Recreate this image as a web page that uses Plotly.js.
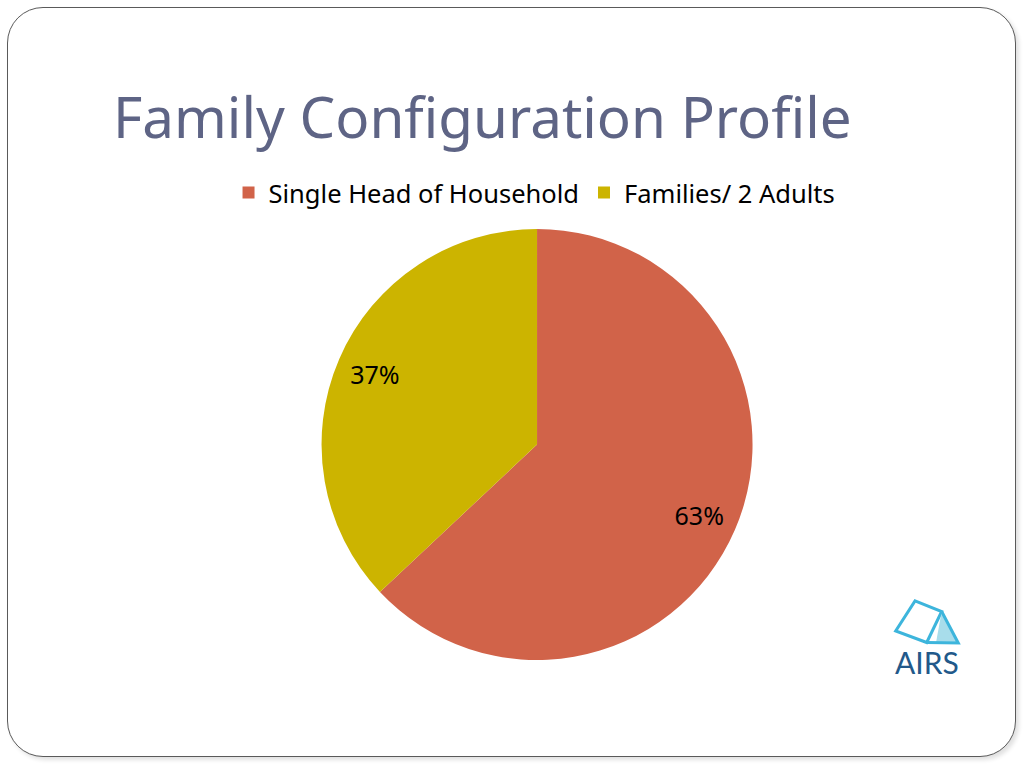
<!DOCTYPE html>
<html>
<head>
<meta charset="utf-8">
<script src="https://cdn.plot.ly/plotly-3.0.1.min.js"></script>
<style>
  html, body { margin: 0; padding: 0; background: #ffffff; }
  #frame {
    position: absolute; left: 7px; top: 7px; width: 1007px; height: 748px;
    border: 1.5px solid #5a5a5a; border-radius: 36px;
    box-shadow: 3px 3px 4px rgba(0,0,0,0.12);
    background: #ffffff;
  }
  #chart { position: absolute; left: 0; top: 0; width: 1024px; height: 768px; }
</style>
</head>
<body>
<div id="frame"></div>
<div id="chart"></div>
<script>
const categories = ["Single Head of Household", "Families/ 2 Adults"];
const shares = [63, 37];
const sliceColors = ["#D16349", "#CCB400"];
const chartTitle = "Family Configuration Profile";

const pieDomain = { x: [0.3140, 0.7349], y: [0.1406, 0.7018] };
const fontFamily = "Noto Sans, Open Sans, sans-serif";

// Main pie (slices + legend)
const slices = {
  type: "pie",
  labels: categories,
  values: shares,
  sort: false,
  direction: "clockwise",
  rotation: 0,
  marker: { colors: sliceColors, line: { width: 0 } },
  textinfo: "none",
  domain: pieDomain,
  hoverinfo: "label+percent"
};

// Transparent ring carrying the percentage labels out near the rim
const labelRing = {
  type: "pie",
  labels: categories,
  values: shares,
  sort: false,
  direction: "clockwise",
  rotation: 0,
  hole: 0.64,
  showlegend: false,
  marker: { colors: ["rgba(0,0,0,0)", "rgba(0,0,0,0)"], line: { width: 0 } },
  texttemplate: "%{percent:.0%}",
  textposition: "inside",
  insidetextorientation: "horizontal",
  textfont: { family: fontFamily, size: 25, color: "#000000" },
  domain: pieDomain,
  hoverinfo: "skip"
};

const layout = {
  width: 1024, height: 768,
  margin: { l: 0, r: 0, t: 0, b: 0 },
  paper_bgcolor: "rgba(0,0,0,0)",
  plot_bgcolor: "rgba(0,0,0,0)",
  title: {
    text: chartTitle,
    x: 113 / 1024, xanchor: "left", xref: "paper",
    y: 1 - 118 / 768, yanchor: "middle", yref: "paper",
    font: { family: fontFamily, size: 56.5, color: "#5E6485" }
  },
  showlegend: true,
  legend: {
    orientation: "h",
    x: 0.522, xanchor: "center",
    y: 1 - 193 / 768, yanchor: "middle",
    font: { family: fontFamily, size: 25.5, color: "#000000" },
    itemwidth: 30, traceorder: "normal",
    bgcolor: "rgba(0,0,0,0)"
  },
  shapes: [
    { type: "path", xref: "paper", yref: "paper",
      path: "M 0.8936,0.2176 L 0.9196,0.2038 L 0.9050,0.1634 L 0.8747,0.1784 Z",
      line: { color: "#3DB5DC", width: 3 }, fillcolor: "rgba(0,0,0,0)" },
    { type: "path", xref: "paper", yref: "paper",
      path: "M 0.9196,0.2038 L 0.9358,0.1628 L 0.9140,0.1628 Z",
      line: { width: 0 }, fillcolor: "#A8DDEB" },
    { type: "path", xref: "paper", yref: "paper",
      path: "M 0.9196,0.2038 L 0.9358,0.1628 L 0.9050,0.1634",
      line: { color: "#3DB5DC", width: 3 }, fillcolor: "rgba(0,0,0,0)" }
  ],
  annotations: [
    { text: "AIRS", xref: "paper", yref: "paper",
      x: 927 / 1024, y: 1 - 662 / 768, xanchor: "center", yanchor: "middle",
      showarrow: false,
      font: { family: "Lato, Inter, sans-serif", size: 30, color: "#22598A" } }
  ]
};

Plotly.newPlot("chart", [slices, labelRing], layout, { displayModeBar: false, staticPlot: true });
</script>
</body>
</html>
